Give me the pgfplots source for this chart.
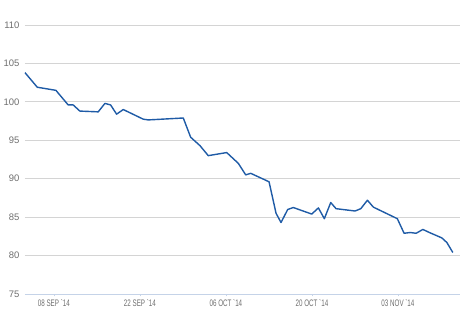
\documentclass[border=0pt]{standalone}
\usepackage{fontspec}
\setmainfont{Liberation Sans}
\newfontfamily\condensed[FakeStretch=0.66]{Liberation Sans}
\usepackage{pgfplots}
\pgfplotsset{compat=1.18}
\definecolor{lineblue}{HTML}{1F5BA6}
\definecolor{gridgray}{HTML}{D4D4D4}
\definecolor{labelgray}{HTML}{6E6E6E}
\definecolor{axisblue}{HTML}{C5D3E8}
\begin{document}
\begin{tikzpicture}
\useasboundingbox (-25bp,-26bp) rectangle (435bp,294bp);
\begin{axis}[
  scale only axis,
  width=435bp, height=269bp,
  xmin=-4.7, xmax=66.1,
  ymin=75, ymax=110,
  ytick={75,80,...,110},
  xtick={0,14,28,42,56},
  xticklabels={08 SEP `14,22 SEP `14,06 OCT `14,20 OCT `14,03 NOV `14},
  axis line style={draw=none},
  axis x line*=bottom,
  axis y line*=left,
  ytick style={draw=none},
  xtick style={axisblue, line width=0.6bp},
  xtick align=outside,
  major tick length=2.5bp,
  ymajorgrids,
  grid style={gridgray, line width=0.9bp},
  yticklabel style={font=\fontsize{9.5}{10}\selectfont, text=labelgray, xshift=-2bp},
  xticklabel style={font=\condensed\fontsize{9.5}{10}\selectfont, text=labelgray, yshift=0bp},
  /pgf/number format/assume math mode=true,
  clip=false,
]
\addplot[axisblue, line width=0.8bp, forget plot] coordinates {(-4.7,75) (66.1,75)};
\addplot[lineblue, line width=1.4bp, line join=round] coordinates {
(-4.7,103.8) (-2.7,101.9) (0.33,101.5) (2.33,99.6) (3.14,99.6) (4.23,98.8)
(7.21,98.7) (8.31,99.8) (9.23,99.6) (10.21,98.4) (11.29,99.0) (14.54,97.75)
(15.36,97.65) (21.06,97.9) (22.26,95.4) (23.78,94.3) (25.13,93.0) (28.13,93.4)
(30.02,92.0) (31.22,90.5) (32.04,90.7) (35.02,89.6) (36.16,85.5) (36.97,84.3)
(38.06,86.0) (38.97,86.25) (41.97,85.4) (43.05,86.2) (44.02,84.8) (45.06,86.9)
(45.93,86.1) (49.02,85.8) (49.95,86.1) (51.03,87.2) (52.0,86.3) (55.9,84.8)
(57.0,82.9) (57.98,83.0) (58.96,82.9) (60.05,83.4) (61.12,83.0) (63.14,82.3)
(63.96,81.7) (64.93,80.4)
};
\end{axis}
\end{tikzpicture}
\end{document}
